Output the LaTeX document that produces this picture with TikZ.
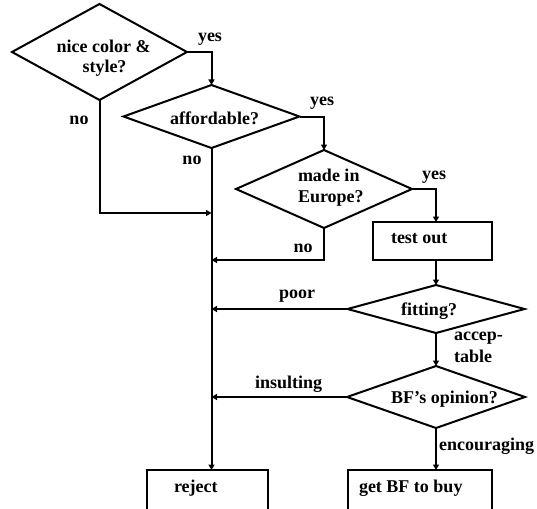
\documentclass[tikz,border=0pt]{standalone}
\usepackage{fontspec}
\setmainfont{Liberation Serif}
\usetikzlibrary{shapes.geometric,arrows.meta}
\begin{document}
\begin{tikzpicture}[x=1pt,y=-1pt,
  line width=2pt,
  font=\fontsize{18}{21}\selectfont\bfseries,
  decision/.style={diamond,draw,inner sep=0pt,outer sep=0pt},
  stepbox/.style={rectangle,draw,inner sep=0pt,outer sep=0pt},
  txt/.style={inner sep=0pt,anchor=base},
  txtw/.style={inner sep=0pt,anchor=base west},
  arr/.style={-{Triangle[length=5.5pt,width=6pt]}},
]
\useasboundingbox (0,0) rectangle (537,508);
\clip (0,0) rectangle (537,508);

% decisions and steps
\node[decision,minimum width=175pt,minimum height=96pt] (d1) at (99.5,52) {};
\node[decision,minimum width=176pt,minimum height=63pt] (d2) at (211.5,116.5) {};
\node[decision,minimum width=176pt,minimum height=78pt] (d3) at (324,189) {};
\node[stepbox,minimum width=119pt,minimum height=38pt] (test) at (432.5,241) {};
\node[decision,minimum width=177pt,minimum height=48pt] (d4) at (436,309) {};
\node[decision,minimum width=178pt,minimum height=62pt] (d5) at (436,397) {};
\node[stepbox,minimum width=121pt,minimum height=80pt,anchor=north] (reject) at (207.5,470) {};
\node[stepbox,minimum width=144pt,minimum height=80pt,anchor=north] (buy) at (420,470) {};

% texts inside the shapes
\node[txt] (t1a) at (103.5,53) {nice color \&};
\node[txt] (t1b) at (104.5,73) {style?};
\node[txt] (t2) at (214.5,124) {affordable?};
\node[txtw] (t3a) at (297,181) {made in};
\node[txtw] (t3b) at (297,202) {Europe?};
\node[txtw] (t4) at (390,243) {test out};
\node[txtw] (t5) at (400,315) {fitting?};
\node[txtw] (t6) at (390,403) {BF’s opinion?};
\node[txtw] (t7) at (173,492) {reject};
\node[txtw] (t8) at (358,492) {get BF to buy};

% branch labels
\node[txt] (yes1) at (210,42) {yes};
\node[txt] (yes2) at (322,106) {yes};
\node[txt] (yes3) at (434,179) {yes};
\node[txt] (no1) at (79,124) {no};
\node[txt] (no2) at (192,164) {no};
\node[txt] (no3) at (303,252) {no};
\node[txtw] (poor) at (278,298) {poor};
\node[txtw] (acc1) at (453,340) {accep-};
\node[txtw] (acc2) at (453,362) {table};
\node[txtw] (insult) at (254,388) {insulting};
\node[txtw] (enc) at (438,450) {encouraging};

% connectors
\coordinate (j1) at (d2.south |- 0,213);
\draw[arr] (d1.east) -| (d2.north);
\draw[arr] (d2.east) -| (d3.north);
\draw[arr] (d3.east) -| (test.north -| d4.north);
\draw[arr] (test.south -| d4.north) -- (d4.north);
\draw[arr] (d4.south) -- (d5.north);
\draw[arr] (d5.south) -- (d5.south |- buy.north);
\draw[arr] (d2.south) -- (d2.south |- reject.north);
\draw[arr] (d1.south) |- (j1);
\draw[arr] (d3.south) |- (d2.south |- test.south);
\draw[arr] (d4.west) -- (d4.west -| d2.south);
\draw[arr] (d5.west) -- (d5.west -| d2.south);
\end{tikzpicture}
\end{document}
